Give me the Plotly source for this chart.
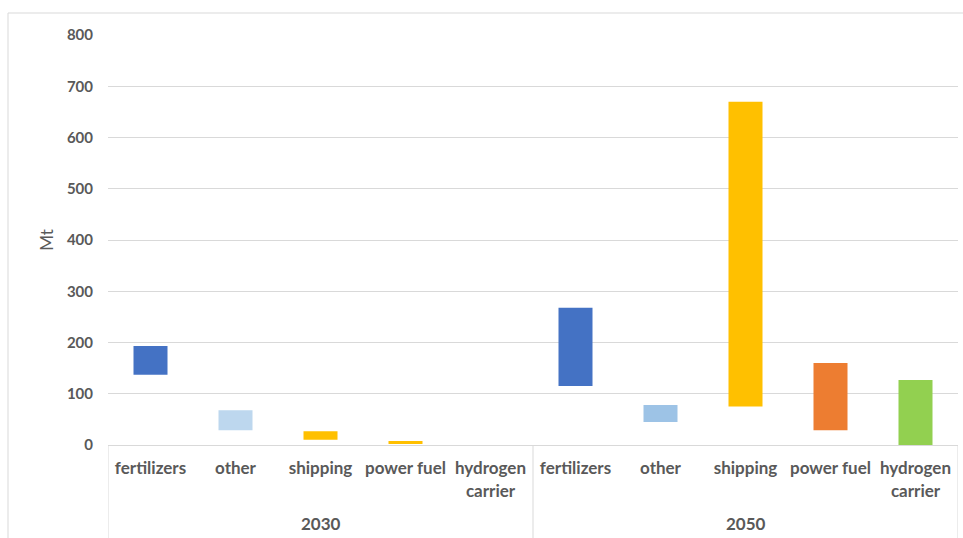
import plotly.graph_objects as go

years = ["2030", "2050"]
uses = ["fertilizers", "other", "shipping", "power fuel", "hydrogen<br>carrier"]
low = [137, 29, 10, 2, 0, 115, 45, 75, 29, 0]
high = [193, 68, 27, 8, 0, 268, 78, 670, 160, 127]
colors = ["#4472C4", "#BDD7EE", "#FFC000", "#FFC000", "#92D050",
          "#4472C4", "#9DC3E6", "#FFC000", "#ED7D31", "#92D050"]
y_ticks = [0, 100, 200, 300, 400, 500, 600, 700, 800]

n_use = len(uses)
xs = list(range(n_use * len(years)))
tick_text = uses * len(years)

font_family = "Lato, 'Open Sans', sans-serif"
grey = "#595959"
line_col = "#D9D9D9"

fig = go.Figure()
fig.add_trace(go.Bar(
    x=xs,
    y=[h - l for h, l in zip(high, low)],
    base=low,
    marker=dict(color=colors, line=dict(width=0)),
    width=0.4,
    showlegend=False,
))

shapes = [dict(type="rect", xref="paper", yref="paper",
               x0=-100/850, x1=1 + 12/850, y0=-100/410, y1=1 + 22/410,
               line=dict(color=line_col, width=1), fillcolor="rgba(0,0,0,0)",
               layer="below")]
annotations = []
for gi, yr in enumerate(years):
    annotations.append(dict(
        x=gi * n_use + (n_use - 1) / 2, y=-78/410, xref="x", yref="paper",
        text=yr, showarrow=False, yanchor="middle",
        font=dict(size=17, color=grey, family=font_family, weight="bold"),
    ))
for b in range(len(years) + 1):
    shapes.append(dict(type="line", xref="x", yref="paper",
                       x0=b * n_use - 0.5, x1=b * n_use - 0.5, y0=0, y1=-100/410,
                       line=dict(color=line_col, width=1)))

fig.update_layout(
    width=963, height=538,
    margin=dict(l=108, r=5, t=35, b=93),
    paper_bgcolor="white", plot_bgcolor="white",
    font=dict(family=font_family, color=grey),
    shapes=shapes,
    annotations=annotations,
)
fig.update_xaxes(
    range=[-0.5, len(xs) - 0.5],
    tickvals=xs, ticktext=tick_text,
    showline=True, linecolor=line_col, linewidth=1,
    tickfont=dict(size=17, color=grey, family=font_family, weight="bold"),
    ticklabelstandoff=8,
    showgrid=False, zeroline=False,
)
fig.update_yaxes(
    range=[0, 800],
    tickvals=y_ticks,
    showgrid=True, gridcolor=line_col, gridwidth=1,
    zeroline=False,
    tickfont=dict(size=15, color=grey, family=font_family, weight="bold"),
    ticklabelstandoff=14,
    title=dict(text="Mt", font=dict(size=17, color=grey, family=font_family), standoff=8),
)

fig.write_html("out.html")
